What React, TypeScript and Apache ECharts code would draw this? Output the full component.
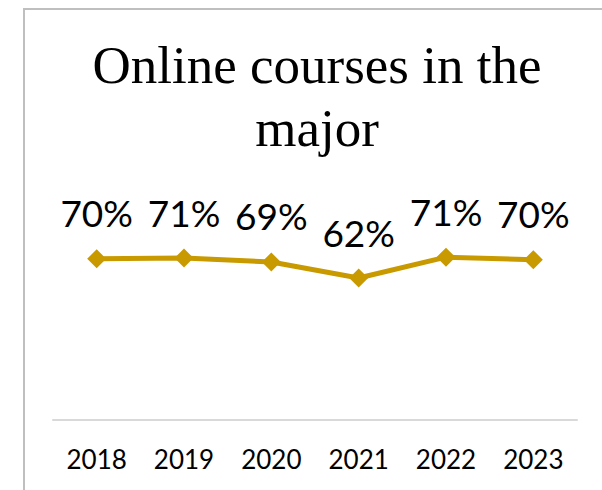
import React, { useEffect, useRef } from "react";
import * as echarts from "echarts";

const years = ["2018", "2019", "2020", "2021", "2022", "2023"];
const shares = [0.704, 0.707, 0.69, 0.62, 0.711, 0.7];
const titleText = "Online courses in the\nmajor";

export default function App() {
  const ref = useRef<HTMLDivElement>(null);
  useEffect(() => {
    if (!ref.current) return;
    const chart = echarts.init(ref.current, null, { renderer: "svg" });
    chart.setOption({
      animation: false,
      backgroundColor: "#ffffff",
      title: {
        text: titleText,
        left: 312,
        top: 28,
        textAlign: "center",
        textStyle: {
          fontFamily: "Liberation Serif",
          fontWeight: "normal",
          fontSize: 53,
          lineHeight: 63,
          color: "#000000",
        },
      },
      graphic: [
        { type: "line", shape: { x1: 24, y1: 9, x2: 24, y2: 490 }, style: { stroke: "#BFBFBF", lineWidth: 2 } },
        { type: "line", shape: { x1: 23, y1: 9, x2: 602, y2: 9 }, style: { stroke: "#BFBFBF", lineWidth: 2 } },
      ],
      grid: { left: 53, right: 25, top: 191, bottom: 70, containLabel: false },
      xAxis: {
        type: "category",
        data: years,
        boundaryGap: true,
        axisLine: { show: true, lineStyle: { color: "#D9D9D9", width: 2 } },
        axisTick: { show: false },
        axisLabel: {
          fontFamily: "Lato",
          fontSize: 26,
          color: "#000000",
          margin: 26,
        },
      },
      yAxis: {
        type: "value",
        min: 0,
        max: 1,
        show: false,
        splitLine: { show: false },
      },
      series: [
        {
          type: "line",
          data: shares,
          symbol: "diamond",
          symbolSize: 19,
          lineStyle: { color: "#C99A00", width: 5 },
          itemStyle: { color: "#C99A00" },
          label: {
            show: true,
            position: "top",
            distance: 18,
            fontFamily: "Lato",
            fontSize: 37,
            color: "#000000",
            formatter: (p: any) => Math.round(p.value * 100) + "%",
          },
        },
      ],
    });
    return () => chart.dispose();
  }, []);
  return (
    <div
      ref={ref}
      style={{ position: "fixed", left: 0, top: 0, width: 602, height: 490 }}
    />
  );
}
